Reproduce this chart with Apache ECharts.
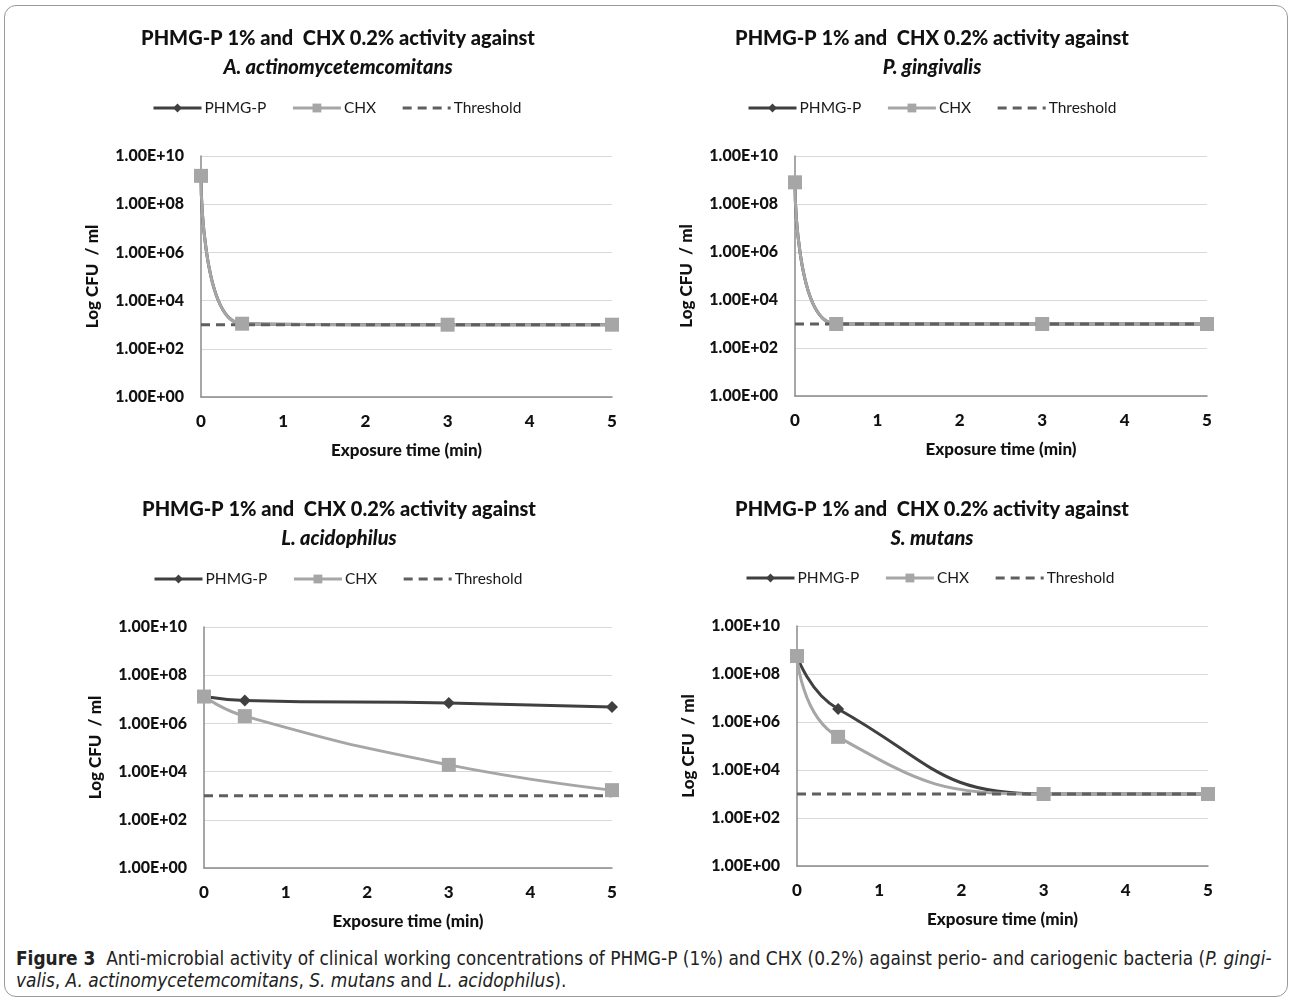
<!DOCTYPE html>
<html>
<head>
<meta charset="utf-8">
<script src="https://cdn.jsdelivr.net/npm/echarts@6/dist/echarts.min.js"></script>
<style>
  html, body { margin: 0; padding: 0; background: #fff; }
  #frame {
    position: absolute; left: 4px; top: 5px; width: 1284px; height: 992px;
    border: 1px solid #9a9a9a; border-radius: 12px; box-sizing: border-box;
  }
  #chart { position: absolute; left: 0; top: 0; width: 1293px; height: 945px; }
  #caption {
    position: absolute; left: 16px; top: 947px; width: 1275px; white-space: nowrap;
    font-family: "DejaVu Sans Condensed", sans-serif;
    font-size: 18.9px; line-height: 22px; color: #222;
  }
</style>
</head>
<body>
<div id="frame"></div>
<div id="chart"></div>
<div id="caption"><b>Figure 3</b>&nbsp; Anti-microbial activity of clinical working concentrations of PHMG-P (1%) and CHX (0.2%) against perio- and cariogenic bacteria (<i>P. gingi-</i><br><i>valis</i>, <i>A. actinomycetemcomitans</i>, <i>S. mutans</i> and <i>L. acidophilus</i>).</div>
<script>
// exposure time (min)
const times = [0, 0.5, 3, 5];
const threshold = 1000;

const species = ['A. actinomycetemcomitans', 'P. gingivalis', 'L. acidophilus', 'S. mutans'];

// Log CFU / ml
const aaPhmg = [1.5e9, 1.1e3, 1.0e3, 1.0e3];
const aaChx  = [1.5e9, 1.1e3, 1.0e3, 1.0e3];
const pgPhmg = [8e8, 1.0e3, 1.0e3, 1.0e3];
const pgChx  = [8e8, 1.0e3, 1.0e3, 1.0e3];
const laPhmg = [1.3e7, 9e6, 7e6, 4.8e6];
const laChx  = [1.3e7, 2e6, 1.9e4, 1.7e3];
const smPhmg = [5.6e8, 3.5e6, 1.0e3, 1.0e3];
const smChx  = [5.6e8, 2.4e5, 1.0e3, 1.0e3];

const phmgSets = [aaPhmg, pgPhmg, laPhmg, smPhmg];
const chxSets = [aaChx, pgChx, laChx, smChx];

// panel placement: [plotLeft, plotTop, plotRight, plotBottom, titleCenterX, titleTop, legendLeft]
const panels = [
  [201, 156, 612, 397, 338, 24, 152],
  [795, 156, 1207, 396, 932, 24, 747],
  [204, 627, 612, 868, 339, 495, 153],
  [797, 626, 1208, 866, 932, 495, 745]
];

const FONT = 'Lato, "Open Sans", sans-serif';

function fmtExp(v) {
  const e = Math.round(Math.log10(v));
  const m = v / Math.pow(10, e);
  return m.toFixed(2) + 'E' + (e < 0 ? '-' : '+') + String(Math.abs(e)).padStart(2, '0');
}

const chart = echarts.init(document.getElementById('chart'));

const title = [], legend = [], grid = [], xAxis = [], yAxis = [], series = [];

panels.forEach((p, i) => {
  const [l, t, r, b, cx, tt, ll] = p;
  title.push({
    left: cx, top: tt, textAlign: 'center', padding: 0,
    text: '{a|PHMG-P 1% and  CHX 0.2% activity against}\n{b|' + species[i] + '}',
    textStyle: {
      rich: {
        a: { fontFamily: FONT, fontSize: 20, fontWeight: 900, color: '#111', lineHeight: 29 },
        b: { fontFamily: FONT, fontSize: 20, fontWeight: 900, fontStyle: 'italic', color: '#111', lineHeight: 29 }
      }
    }
  });
  legend.push({
    left: ll, top: t - 56, padding: 0, width: 500,
    itemWidth: 48, itemHeight: 11, itemGap: 25,
    lineStyle: { width: 3 },
    data: ['PHMG-P', 'CHX', { name: 'Threshold', itemStyle: { opacity: 0 } }],
    textStyle: { fontFamily: FONT, fontSize: 15.5, color: '#1a1a1a', padding: [0, 0, 0, -2] }
  });
  grid.push({ left: l, top: t, width: r - l, height: b - t, containLabel: false });
  xAxis.push({
    gridIndex: i, type: 'value', min: 0, max: 5, interval: 1,
    name: 'Exposure time (min)', nameLocation: 'middle', nameGap: 45,
    nameTextStyle: { fontFamily: FONT, fontSize: 17, fontWeight: 900, color: '#111' },
    axisLine: { lineStyle: { color: '#8a8a8a', width: 1.5 } },
    axisTick: { show: false },
    splitLine: { show: false },
    axisLabel: { fontFamily: FONT, fontSize: 17, fontWeight: 900, color: '#111', margin: 16 }
  });
  yAxis.push({
    gridIndex: i, type: 'log', logBase: 10, min: 1, max: 1e10, interval: 2,
    name: 'Log CFU  / ml', nameLocation: 'middle', nameGap: 100, nameRotate: 90,
    nameTextStyle: { fontFamily: FONT, fontSize: 17, fontWeight: 900, color: '#111' },
    axisLine: { show: true, lineStyle: { color: '#8a8a8a', width: 1.5 } },
    axisTick: { show: false },
    minorTick: { show: false },
    splitLine: { lineStyle: { color: '#d9d9d9', width: 1 } },
    axisLabel: { fontFamily: FONT, fontSize: 16, fontWeight: 900, color: '#111', margin: 17, formatter: fmtExp }
  });
  series.push({
    name: 'PHMG-P', type: 'line', xAxisIndex: i, yAxisIndex: i, smooth: 0.5,
    data: times.map((x, k) => [x, phmgSets[i][k]]),
    symbol: 'diamond', symbolSize: 12,
    lineStyle: { color: '#404040', width: 3 },
    itemStyle: { color: '#404040' }
  });
  series.push({
    name: 'CHX', type: 'line', xAxisIndex: i, yAxisIndex: i, smooth: 0.5,
    data: times.map((x, k) => [x, chxSets[i][k]]),
    symbol: 'rect', symbolSize: 14,
    lineStyle: { color: '#a6a6a6', width: 3 },
    itemStyle: { color: '#a6a6a6' }
  });
  series.push({
    name: 'Threshold', type: 'line', xAxisIndex: i, yAxisIndex: i,
    data: [[times[0], threshold], [times[times.length - 1], threshold]],
    symbol: 'none',
    lineStyle: { color: '#5f5f5f', width: 3, type: [9, 6] },
    itemStyle: { color: '#5f5f5f' }
  });
});

chart.setOption({
  animation: false,
  title, legend, grid, xAxis, yAxis, series
});
</script>
</body>
</html>
